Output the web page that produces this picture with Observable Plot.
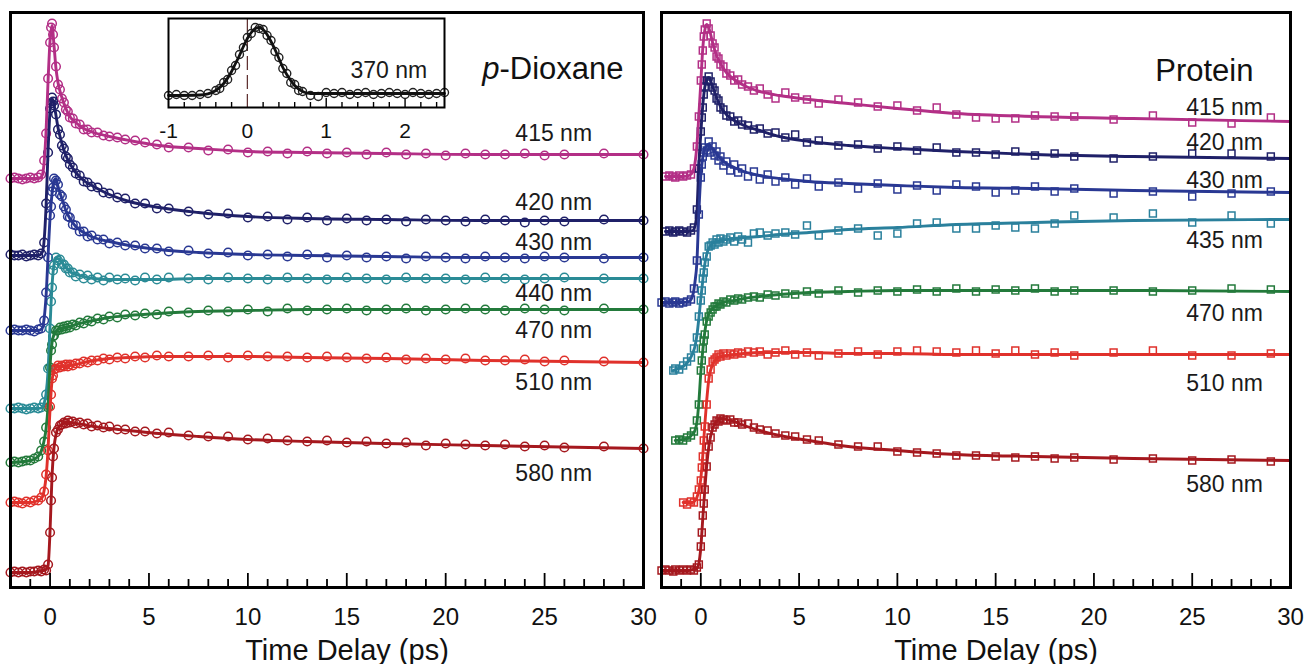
<!DOCTYPE html>
<html><head><meta charset="utf-8">
<script src="https://cdn.jsdelivr.net/npm/d3@7"></script>
<script src="https://cdn.jsdelivr.net/npm/@observablehq/plot@0.6"></script>
<style>
body{margin:0;background:#fff;}
#wrap{position:relative;width:1306px;height:664px;overflow:hidden;background:#fff;}
#wrap svg{position:absolute;overflow:visible;}
</style></head><body><div id="wrap"></div>
<script>
// ---------- p-Dioxane panel (circles) ----------
const dioxaneNames = ["415 nm","420 nm","430 nm","440 nm","470 nm","510 nm","580 nm"];
const dioxaneOffset = [409, 332, 257, 179, 125, 85, 15];
const dioxaneLabelY = [454, 385, 345, 294, 257, 205, 114];
const tDioxane = [-2,-1.8,-1.6,-1.4,-1.2,-1,-0.8,-0.6,-0.45,-0.3,-0.2,-0.1,0,0.05,0.1,0.15,0.2,0.3,0.4,0.5,0.6,0.7,0.8,0.9,1.0,1.15,1.3,1.5,1.7,1.9,2.1,2.4,2.7,3.0,3.4,3.8,4.3,4.8,5.4,6,7,8,9,10,11,12,13,14,15,16,17,18,19,20,21,22,23,24,25,26,28,30];
const dioxane415 = [0,1,0,-1,0,1,0,1,4,18,45,100,136,151,155,144,131,112,94,89,80,76,69,67,61,60,55,54,49,49,46,46,43,42,41,39,38,36,34,31,31,28,29,26,27,25,27,25,26,24,26,24,25,23,25,24,24,25,23,24,25,24];
const dioxane420 = [1,0,0,1,-1,0,1,0,2,13,52,103,147,152,158,154,150,141,126,121,110,107,99,97,91,88,82,80,74,73,69,68,63,62,58,57,52,52,47,47,44,41,42,38,39,36,38,35,37,35,36,34,36,35,34,36,35,33,35,34,36,35];
const dioxane430 = [0,1,0,0,1,0,-1,1,2,10,38,73,115,124,139,143,152,150,146,136,134,124,121,114,113,106,105,99,99,94,95,91,91,87,88,85,85,82,82,79,80,77,78,75,76,74,76,73,75,73,74,72,74,73,72,74,73,72,74,73,72,73];
const dioxane440 = [0,0,1,0,-1,0,1,0,1,6,14,40,80,107,121,138,143,151,148,149,144,144,140,140,136,136,132,134,130,133,129,131,128,131,129,130,128,131,129,131,130,129,131,130,129,131,130,129,131,130,129,131,130,130,129,131,130,129,130,131,130,130];
const dioxane470 = [0,1,0,1,2,2,4,6,12,21,35,55,95,112,118,126,127,132,132,135,133,136,134,137,135,138,137,140,139,142,141,144,143,146,145,148,147,149,148,151,150,152,151,153,151,154,152,153,154,152,153,154,152,153,154,153,152,154,153,152,154,153];
const dioxane510 = [0,1,0,-1,1,0,2,2,5,11,28,52,96,108,124,127,133,134,137,135,137,136,138,136,138,137,139,139,141,140,142,142,144,143,145,144,146,145,147,146,146,147,145,147,146,146,145,146,145,144,145,143,144,143,144,142,142,143,141,142,141,140];
const dioxane580 = [0,1,0,1,0,1,1,2,1,3,2,8,40,72,95,116,124,140,143,147,148,150,149,152,150,151,149,150,148,149,146,147,145,146,143,143,141,141,139,140,137,136,136,133,134,132,131,132,130,131,129,130,127,129,128,127,128,126,127,125,126,124];
const tDioxaneFit = [-2,-1,-0.6,-0.4,-0.3,-0.2,-0.1,0,0.1,0.2,0.3,0.4,0.6,0.8,1.0,1.3,1.7,2.2,3,4,5.5,7.5,10,13,17,22,30];
const dioxaneFit415 = [0,0,0,3,16,48,98,138,153,133,110,96,81,70,62,56,50,46,42,38,33,30,27,26,25,24,24];
const dioxaneFit420 = [0,0,0,3,15,50,105,145,157,151,140,128,112,100,92,83,75,69,61,54,48,43,39,37,36,35,35];
const dioxaneFit430 = [0,0,0,2,12,35,75,113,137,150,152,144,132,120,112,104,98,93,89,85,81,78,76,75,74,73,73];
const dioxaneFit440 = [0,0,0,1,5,15,38,83,123,144,150,150,146,141,137,134,132,130,129,129,129,130,130,130,130,130,130];
const dioxaneFit470 = [0,2,6,14,22,34,57,97,120,128,131,133,134,135,136,138,140,142,145,147,149,151,152,153,153,153,153];
const dioxaneFit510 = [0,0,2,5,12,26,54,94,122,132,135,136,136,136,137,138,140,142,144,145,146,146,146,145,144,142,140];
const dioxaneFit580 = [0,0,1,2,2,3,7,42,97,125,138,144,148,150,150,149,148,146,144,142,139,136,133,131,129,127,124];

// ---------- Protein panel (squares) ----------
const proteinNames = ["415 nm","420 nm","430 nm","435 nm","470 nm","510 nm","580 nm"];
const proteinOffset = [411, 356, 285, 217, 147, 85, 17];
const proteinLabelY = [480, 445, 407, 347, 274, 204, 103];
const tProtein = [-2,-1.8,-1.6,-1.4,-1.3,-1.1,-0.9,-0.7,-0.5,-0.35,-0.2,-0.1,0,0.05,0.1,0.15,0.2,0.3,0.4,0.5,0.6,0.7,0.8,0.9,1.0,1.15,1.3,1.5,1.7,1.9,2.1,2.4,2.7,3.0,3.4,3.8,4.3,4.8,5.4,6,7,8,9,10,11,12,13,14,15,16,17,18,19,21,23,25,27,29];
const protein415 = [null,0,1,0,-1,1,0,1,2,8,30,60,96,112,126,140,147,153,148,141,133,129,120,118,112,110,103,101,96,97,92,90,86,88,82,78,84,79,77,73,77,74,70,71,66,69,62,59,58,58,61,60,60,57,61,54,53,59];
const protein420 = [null,0,1,-1,0,1,0,-1,1,4,22,63,100,114,124,137,145,151,155,150,144,141,133,131,124,122,116,115,110,111,107,106,102,103,98,99,94,97,89,91,86,87,83,85,81,84,79,79,77,80,76,78,75,73,75,78,78,75];
const protein430 = [0,1,-1,0,1,-1,0,1,3,14,42,88,125,138,146,150,155,152,161,150,156,147,151,142,146,137,141,132,138,130,134,126,131,123,128,121,125,118,124,116,120,114,119,113,117,112,118,116,110,112,116,111,114,109,111,106,109,111];
const protein435 = [null,null,null,0,2,1,5,9,13,22,33,54,70,80,92,98,108,114,124,125,128,126,131,128,132,129,131,133,129,134,131,128,137,138,135,137,138,136,145,135,140,142,135,137,147,148,142,142,145,143,142,147,155,153,157,148,155,147];
const protein470 = [null,null,null,null,0,1,0,3,5,9,20,36,70,80,92,100,106,119,124,128,131,134,134,137,136,139,138,141,140,142,141,143,144,143,146,145,147,146,149,147,150,148,150,149,151,149,152,149,151,150,152,149,150,150,149,150,152,151];
const protein510 = [null,null,null,null,null,null,0,-2,1,0,6,13,22,35,46,62,76,98,124,133,141,143,145,148,146,149,147,149,148,150,149,151,150,151,148,150,152,148,150,147,149,151,148,151,152,151,150,152,149,152,148,150,147,150,152,147,147,149];
const protein580 = [0,1,0,-1,1,0,1,0,1,0,3,6,24,38,55,67,81,104,124,133,143,146,150,149,152,151,150,151,148,148,146,147,143,141,140,137,135,134,131,130,126,124,124,119,118,117,115,115,114,113,114,112,113,111,112,110,111,109];
const tProteinFit = [-2,-1.8,-1.4,-1.3,-0.9,-0.6,-0.4,-0.3,-0.2,-0.1,0,0.1,0.2,0.3,0.4,0.6,0.8,1.0,1.3,1.7,2.2,3,4,5.5,7.5,10,13,17,22,30];
const proteinFit415 = [null,0,0,0,0,1,5,13,31,61,94,128,146,152,149,134,121,113,104,97,91,85,81,77,73,68,63,60,58,55];
const proteinFit420 = [null,0,0,0,0,0,1,5,19,66,98,126,144,152,154,145,134,125,117,111,106,101,95,90,86,83,80,77,75,73];
const proteinFit430 = [0,0,0,0,0,1,8,20,40,90,127,145,153,157,158,154,149,144,139,135,131,127,124,121,119,117,115,114,112,110];
const proteinFit435 = [null,null,0,1,4,10,18,24,35,52,72,90,106,116,122,127,129,130,131,132,133,134,136,138,141,143,146,148,150,151];
const proteinFit470 = [null,null,null,0,1,3,7,10,18,38,68,90,108,120,126,132,135,137,139,140,142,144,146,148,149,150,150,150,150,149];
const proteinFit510 = [null,null,null,null,0,0,0,2,5,12,24,47,77,102,122,138,144,146,147,148,149,150,150,150,149,149,148,148,148,148];
const proteinFit580 = [0,0,0,0,0,0,1,1,2,7,23,52,80,105,123,142,149,152,151,149,145,140,135,130,124,120,116,114,112,110];

// ---------- Inset: 370 nm cross-correlation ----------
const tInset = [-1,-0.9,-0.8,-0.7,-0.6,-0.5,-0.4,-0.35,-0.3,-0.25,-0.2,-0.15,-0.1,-0.05,0,0.05,0.1,0.15,0.2,0.25,0.3,0.35,0.4,0.45,0.5,0.55,0.6,0.65,0.7,0.8,0.9,1.0,1.1,1.2,1.3,1.4,1.5,1.6,1.7,1.8,1.9,2.0,2.1,2.2,2.3,2.4,2.5];
const xcorr370 = [0,1,0,0,1,2,5,7,13,16,25,30,41,48,58,62,68,67,66,60,55,44,38,27,22,13,11,5,4,0,-1,3,2,3,1,2,3,1,2,3,2,1,3,2,1,2,3];
const tInsetFit = [-1,-0.6,-0.5,-0.4,-0.3,-0.2,-0.15,-0.1,-0.05,0,0.05,0.1,0.15,0.2,0.25,0.3,0.35,0.4,0.45,0.5,0.55,0.6,0.7,0.8,1.0,1.5,2.0,2.5];
const xcorrFit = [0,0.5,1.6,5,12,24,32,40,49,57,63,67,68,66,61,54,46,37,28,21,15,10,4,2,2,2,2,2];

const xTicks = [0,5,10,15,20,25,30];
const insetTicks = [-1,0,1,2];

const dioxaneColors = ["#b32f86","#1f2068","#293893","#2a8b96","#237a3b","#e0312b","#a5181e"];
const proteinColors = ["#b32f86","#1f2068","#293893","#2a809c","#237a3b","#e0312b","#a5181e"];

const FONT = '"Liberation Sans", Arial, Helvetica, sans-serif';

function rowsOf(times, values, offset) {
  const rows = [];
  times.forEach((t, i) => { const v = values[i]; if (v != null) rows.push({t, y: offset + v}); });
  return rows;
}

function panel(cfg) {
  const height = 664, marginTop = 12, marginBottom = 77;
  const innerH = height - marginTop - marginBottom;
  const minor = d3.range(-1, 30).filter(v => v % 5 !== 0);
  const major = [0,5,10,15,20,25];
  const marks = [];
  cfg.data.forEach((vals, i) => {
    marks.push(Plot.dot(rowsOf(cfg.times, vals, cfg.offsets[i]), {x: "t", y: "y", stroke: cfg.colors[i], fill: "none", r: cfg.r, symbol: cfg.symbol, strokeWidth: 1.5}));
  });
  cfg.fits.forEach((vals, i) => {
    marks.push(Plot.line(rowsOf(cfg.fitTimes, vals, cfg.offsets[i]), {x: "t", y: "y", stroke: cfg.colors[i], strokeWidth: 2.9, curve: "monotone-x"}));
  });
  marks.push(Plot.text(cfg.names.map((name, i) => ({name, x: cfg.labelX, y: cfg.labelY[i]})), {x: "x", y: "y", text: "name", textAnchor: "end", fontSize: 23, fill: "#1a1a1a"}));
  marks.push(Plot.ruleX(minor, {x: d => d, insetTop: innerH - 8, stroke: "black", strokeWidth: 1.8}));
  marks.push(Plot.ruleX(major, {x: d => d, insetTop: innerH - 14, stroke: "black", strokeWidth: 1.8}));
  marks.push(Plot.text(["Time Delay (ps)"], {text: d => d, frameAnchor: "bottom", dx: 20, dy: 72, fontSize: 29, fill: "#111"}));
  cfg.title.forEach(m => marks.push(m));
  marks.push(Plot.frame({stroke: "black", strokeWidth: 3}));
  const svg = Plot.plot({
    width: cfg.width, height, marginTop, marginBottom, marginLeft: cfg.marginLeft, marginRight: cfg.marginRight,
    x: {domain: [-2, 30], ticks: xTicks, tickSize: 0, tickPadding: 20, tickFormat: d => String(d), label: null},
    y: {domain: [0, 575], axis: null},
    style: {background: "transparent", overflow: "visible", fontFamily: FONT, fontSize: "24px", color: "#111"},
    marks
  });
  svg.style.left = cfg.left + "px";
  svg.style.top = "0px";
  return svg;
}

const wrap = document.getElementById("wrap");

wrap.appendChild(panel({
  left: 0, width: 650, marginLeft: 10, marginRight: 7,
  times: tDioxane, fitTimes: tDioxaneFit,
  data: [dioxane415, dioxane420, dioxane430, dioxane440, dioxane470, dioxane510, dioxane580],
  fits: [dioxaneFit415, dioxaneFit420, dioxaneFit430, dioxaneFit440, dioxaneFit470, dioxaneFit510, dioxaneFit580],
  offsets: dioxaneOffset, colors: dioxaneColors, names: dioxaneNames,
  labelX: 27.4, labelY: dioxaneLabelY, symbol: "circle", r: 4.3,
  title: [
    Plot.text(["p"], {text: d => d, frameAnchor: "top-right", dx: -144, dy: 44, textAnchor: "end", fontStyle: "italic", fontSize: 31, fill: "#111"}),
    Plot.text(["-Dioxane"], {text: d => d, frameAnchor: "top-right", dx: -144, dy: 44, textAnchor: "start", fontSize: 31, fill: "#111"})
  ]
}));

wrap.appendChild(panel({
  left: 650, width: 656, marginLeft: 11, marginRight: 16,
  times: tProtein, fitTimes: tProteinFit,
  data: [protein415, protein420, protein430, protein435, protein470, protein510, protein580],
  fits: [proteinFit415, proteinFit420, proteinFit430, proteinFit435, proteinFit470, proteinFit510, proteinFit580],
  offsets: proteinOffset, colors: proteinColors, names: proteinNames,
  labelX: 28.6, labelY: proteinLabelY, symbol: "square", r: 3.9,
  title: [
    Plot.text(["Protein"], {text: d => d, frameAnchor: "top-right", dx: -37, dy: 46, textAnchor: "end", fontSize: 31, fill: "#111"})
  ]
}));

// inset
(function () {
  const height = 139, marginTop = 10, marginBottom = 40;
  const innerH = height - marginTop - marginBottom;
  const minor = d3.range(-4, 13).filter(i => i % 5 !== 0).map(i => i / 5);
  const svg = Plot.plot({
    width: 296, height, marginTop, marginBottom, marginLeft: 10, marginRight: 10,
    x: {domain: [-1, 2.5], ticks: insetTicks, tickSize: 0, tickPadding: 16, tickFormat: d => String(d), label: null},
    y: {domain: [-12, 77], axis: null},
    style: {background: "transparent", overflow: "visible", fontFamily: FONT, fontSize: "21px", color: "#111"},
    marks: [
      Plot.frame({fill: "white", stroke: "none"}),
      Plot.ruleX([0], {x: d => d, stroke: "#5a2a2a", strokeWidth: 1.2, strokeDasharray: "14,5"}),
      Plot.ruleX(minor, {x: d => d, insetTop: innerH - 5, stroke: "black", strokeWidth: 1.4}),
      Plot.ruleX([1, 2], {x: d => d, insetTop: innerH - 9, stroke: "black", strokeWidth: 1.4}),
      Plot.dot(rowsOf(tInset, xcorr370, 0), {x: "t", y: "y", stroke: "#222", fill: "none", r: 4, strokeWidth: 1.4}),
      Plot.line(rowsOf(tInsetFit, xcorrFit, 0), {x: "t", y: "y", stroke: "#111", strokeWidth: 2.8, curve: "monotone-x"}),
      Plot.text(["370 nm"], {text: d => d, x: 2.28, y: 25, textAnchor: "end", fontSize: 23, fill: "#1a1a1a"}),
      Plot.frame({stroke: "black", strokeWidth: 2})
    ]
  });
  svg.style.left = "158px";
  svg.style.top = "8px";
  wrap.appendChild(svg);
})();
</script>
</body></html>
